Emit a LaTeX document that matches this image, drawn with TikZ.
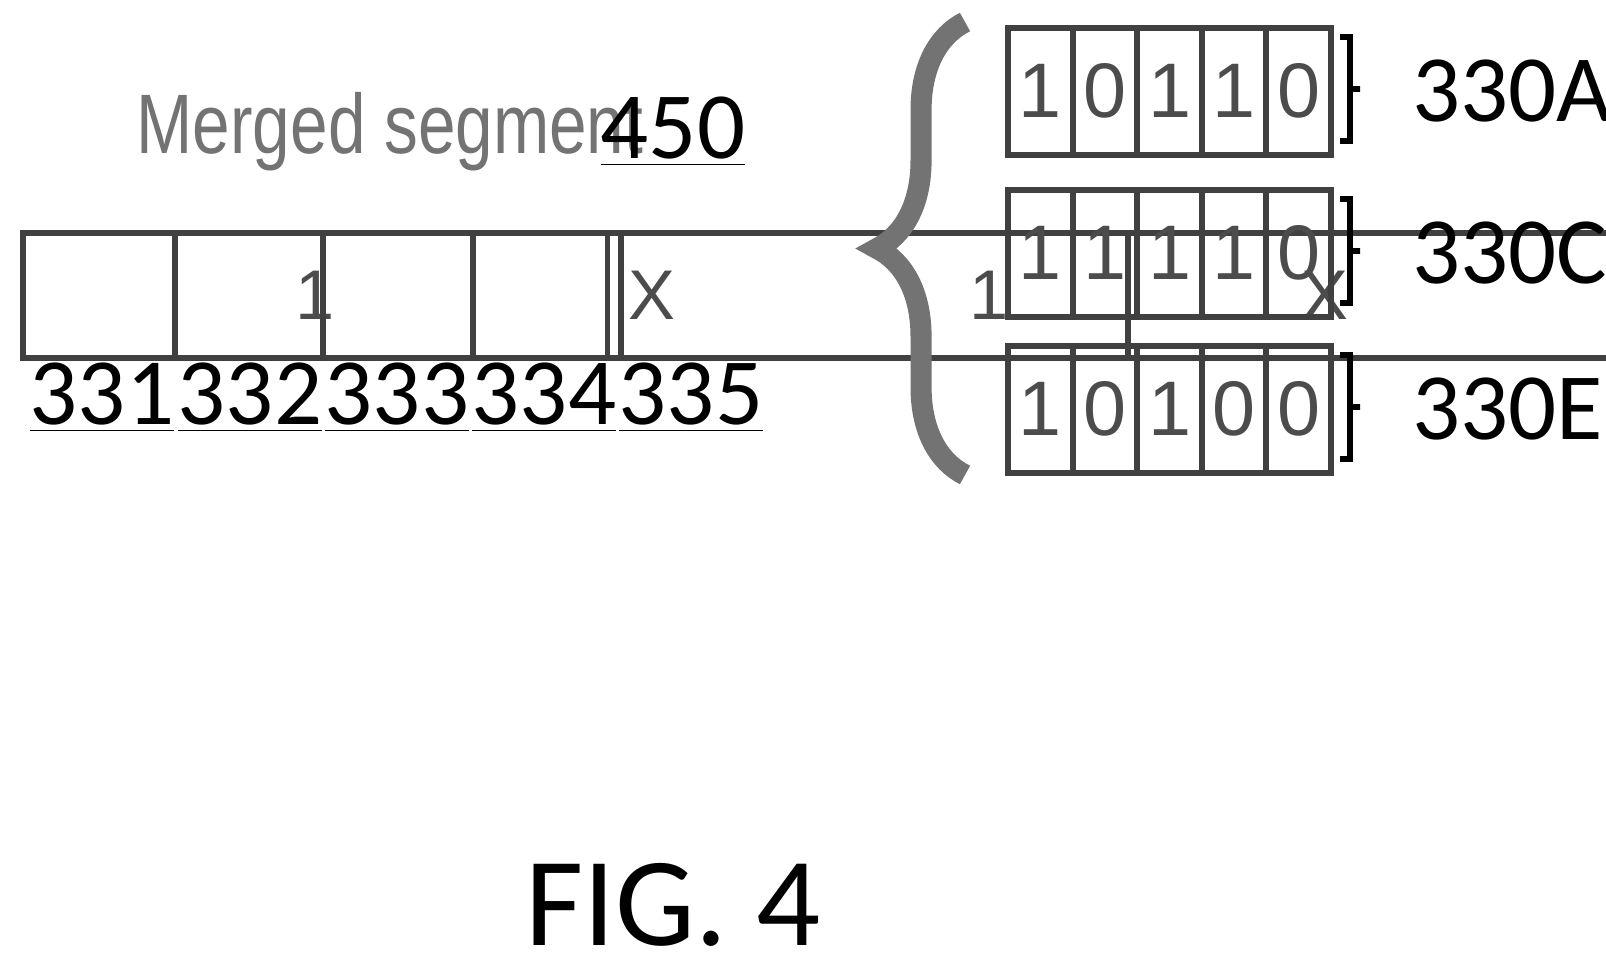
\documentclass[tikz,border=0pt]{standalone}
\usepackage{fontspec}
\setmainfont{Carlito}
\newfontfamily\cellfont{Liberation Sans}
\usetikzlibrary{decorations.pathreplacing}
\begin{document}
\begin{tikzpicture}[x={(0.01cm,0)},y={(0,-0.01cm)},
 cell/.style={draw=black!75,line width=1.6pt,minimum width=#1*0.01cm,inner sep=0pt,anchor=north west,font=\cellfont\fontsize{20}{22}\selectfont,text=black!70},
 lab/.style={font=\fontsize{27}{30}\selectfont}]
\useasboundingbox (0,0) rectangle (1606,978);
% merged segment
\node[font=\cellfont\fontsize{24}{26}\selectfont,text=black!55,xscale=0.8] (ms) at (390,132) {Merged segment};
\node[lab] (n450) at (673,132) {\underline{450}};
\foreach \i/\xa/\xb/\t/\n in {1/20/172/1/331,2/172/320/X/332,3/320/470/1/333,4/470/618/X/334,5/618/768/0/335}{
 \node[cell=\xb-\xa, minimum height=1.25cm] (m\i) at (\xa,230) {\t};
 \node[lab] (l\i) at ({(\xa+\xb)/2-\i*2+8},398) {\underline{\n}};
}
% right rows
\foreach \r/\y/\bits in {A/25/{1,0,1,1,0},C/187/{1,1,1,1,0},E/343/{1,0,1,0,0}}{
 \foreach \b [count=\k] in \bits {
  \node[cell=65,minimum height=1.27cm,font=\cellfont\fontsize{22}{24}\selectfont] (c\r\k) at ({1005+(\k-1)*64.6},\y) {\b};
 }
 \draw[line width=1.5pt] (1340,\y+12) -- (1350,\y+12) -- (1350,\y+64) -- (1360,\y+64) -- (1350,\y+64) -- (1350,\y+116) -- (1340,\y+116);
 \node[lab,anchor=west] (r\r) at (1400,\y+66) {330\r};
}
% big brace
\coordinate (bb) at (965,475);
\coordinate (bt) at (965,22);
\draw[black!55,line width=6pt,decoration={brace,amplitude=25pt},decorate] (bb) -- (bt);
\node[font=\fontsize{36}{40}\selectfont] (fig) at (673,905) {FIG. 4};
\end{tikzpicture}
\end{document}
